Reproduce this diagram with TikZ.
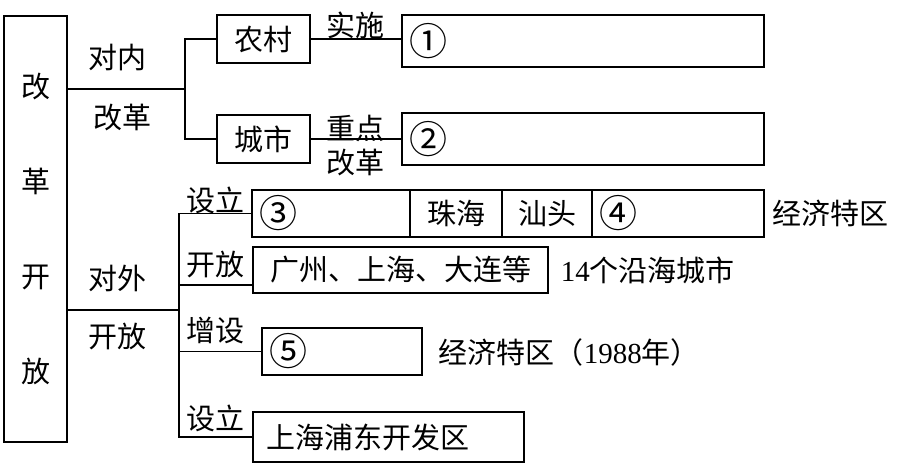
\documentclass[tikz,border=0pt]{standalone}
\usepackage{fontspec}
\setmainfont{Liberation Serif}
\newfontfamily\cjk{Noto Sans CJK SC}
\usetikzlibrary{calc}
\newcommand{\digits}[1]{{\rmfamily #1}}
\newcommand{\blank}[1]{{\fontsize{19}{19}\selectfont #1}}

\begin{document}
\begin{tikzpicture}[x=0.5pt, y=0.5pt, line width=0.9pt,
    font=\cjk\fontsize{14.5}{16}\selectfont,
    box/.style={draw, inner sep=0pt, minimum height=24pt},
    slot/.style={draw, inner xsep=3.5pt, inner ysep=0pt, align=left, minimum height=25pt},
    word/.style={inner sep=0pt}]
        \useasboundingbox (0,0) rectangle (899,465);
        \node[draw, minimum width=31.5pt, minimum height=213pt, align=center,
              font=\cjk\fontsize{14.5}{47.5}\selectfont] (root) at (35.5,236) {改\\革\\开\\放};
        \node[box, minimum width=46.5pt] (rural) at (263.5,426) {农村};
        \node[box, minimum width=46.5pt] (urban) at (263.5,326) {城市};
        \node[slot, text width=174pt, minimum height=26pt] (ans1) at (583,424) {\blank{①}};
        \node[slot, text width=174pt, minimum height=26pt] (ans2) at (583,326) {\blank{②}};
        \node[slot, text width=72pt, minimum height=23.5pt] (ans3) at (331,251.5) {\blank{③}};
        \node[box, minimum width=46pt, minimum height=23.5pt] (zhuhai) at (456,251.5) {珠海};
        \node[box, minimum width=45pt, minimum height=23.5pt] (shantou) at (547,251.5) {汕头};
        \node[slot, text width=79pt, minimum height=23.5pt] (ans4) at (678,251.5) {\blank{④}};
        \node[box, minimum width=147.5pt, minimum height=23pt] (coast) at (400.5,195) {广州、上海、大连等};
        \node[slot, text width=73pt, minimum height=23.5pt] (ans5) at (342,113.5) {\blank{⑤}};
        \node[slot, inner xsep=6.5pt, text width=122.5pt] (pudong) at (388.5,28) {上海浦东开发区};
        \node[word] (dn) at (117,407) {对内};
        \node[word] (dngg) at (122,347) {改革};
        \node[word] (ss) at (355,440) {实施};
        \node[word] (zd) at (355,337) {重点};
        \node[word] (zdgg) at (355,302) {改革};
        \node[word] (dw) at (117,187) {对外};
        \node[word] (dwkf) at (117,128) {开放};
        \node[word] (sl1) at (215,265) {设立};
        \node[word] (kf) at (215,200) {开放};
        \node[word] (zs) at (215,135) {增设};
        \node[word] (sl2) at (215,47) {设立};
        \node[word] (tq) at (830,252) {经济特区};
        \node[word, anchor=west] (yh) at (560,195) {\digits{14}个沿海城市};
        \node[word, anchor=west] (tq88) at (438,113) {经济特区（\digits{1988}年）};
        \coordinate (nj) at (185,376);
        \coordinate (wj) at (179,155);
        \coordinate (coastin) at ([yshift=-7.5pt]coast.west);
        \draw (root.east |- nj) -- (nj);
        \draw (rural.west) -| (nj) |- (urban.west);
        \draw (rural.east) -- (rural.east -| ans1.west);
        \draw (urban.east) -- (urban.east -| ans2.west);
        \draw (root.east |- wj) -- (wj);
        \draw (ans3.west) -| (wj) |- (pudong.west);
        \draw (wj |- coastin) -- (coastin);
        \draw (wj |- ans5.west) -- (ans5.west);
      \end{tikzpicture}
\end{document}
